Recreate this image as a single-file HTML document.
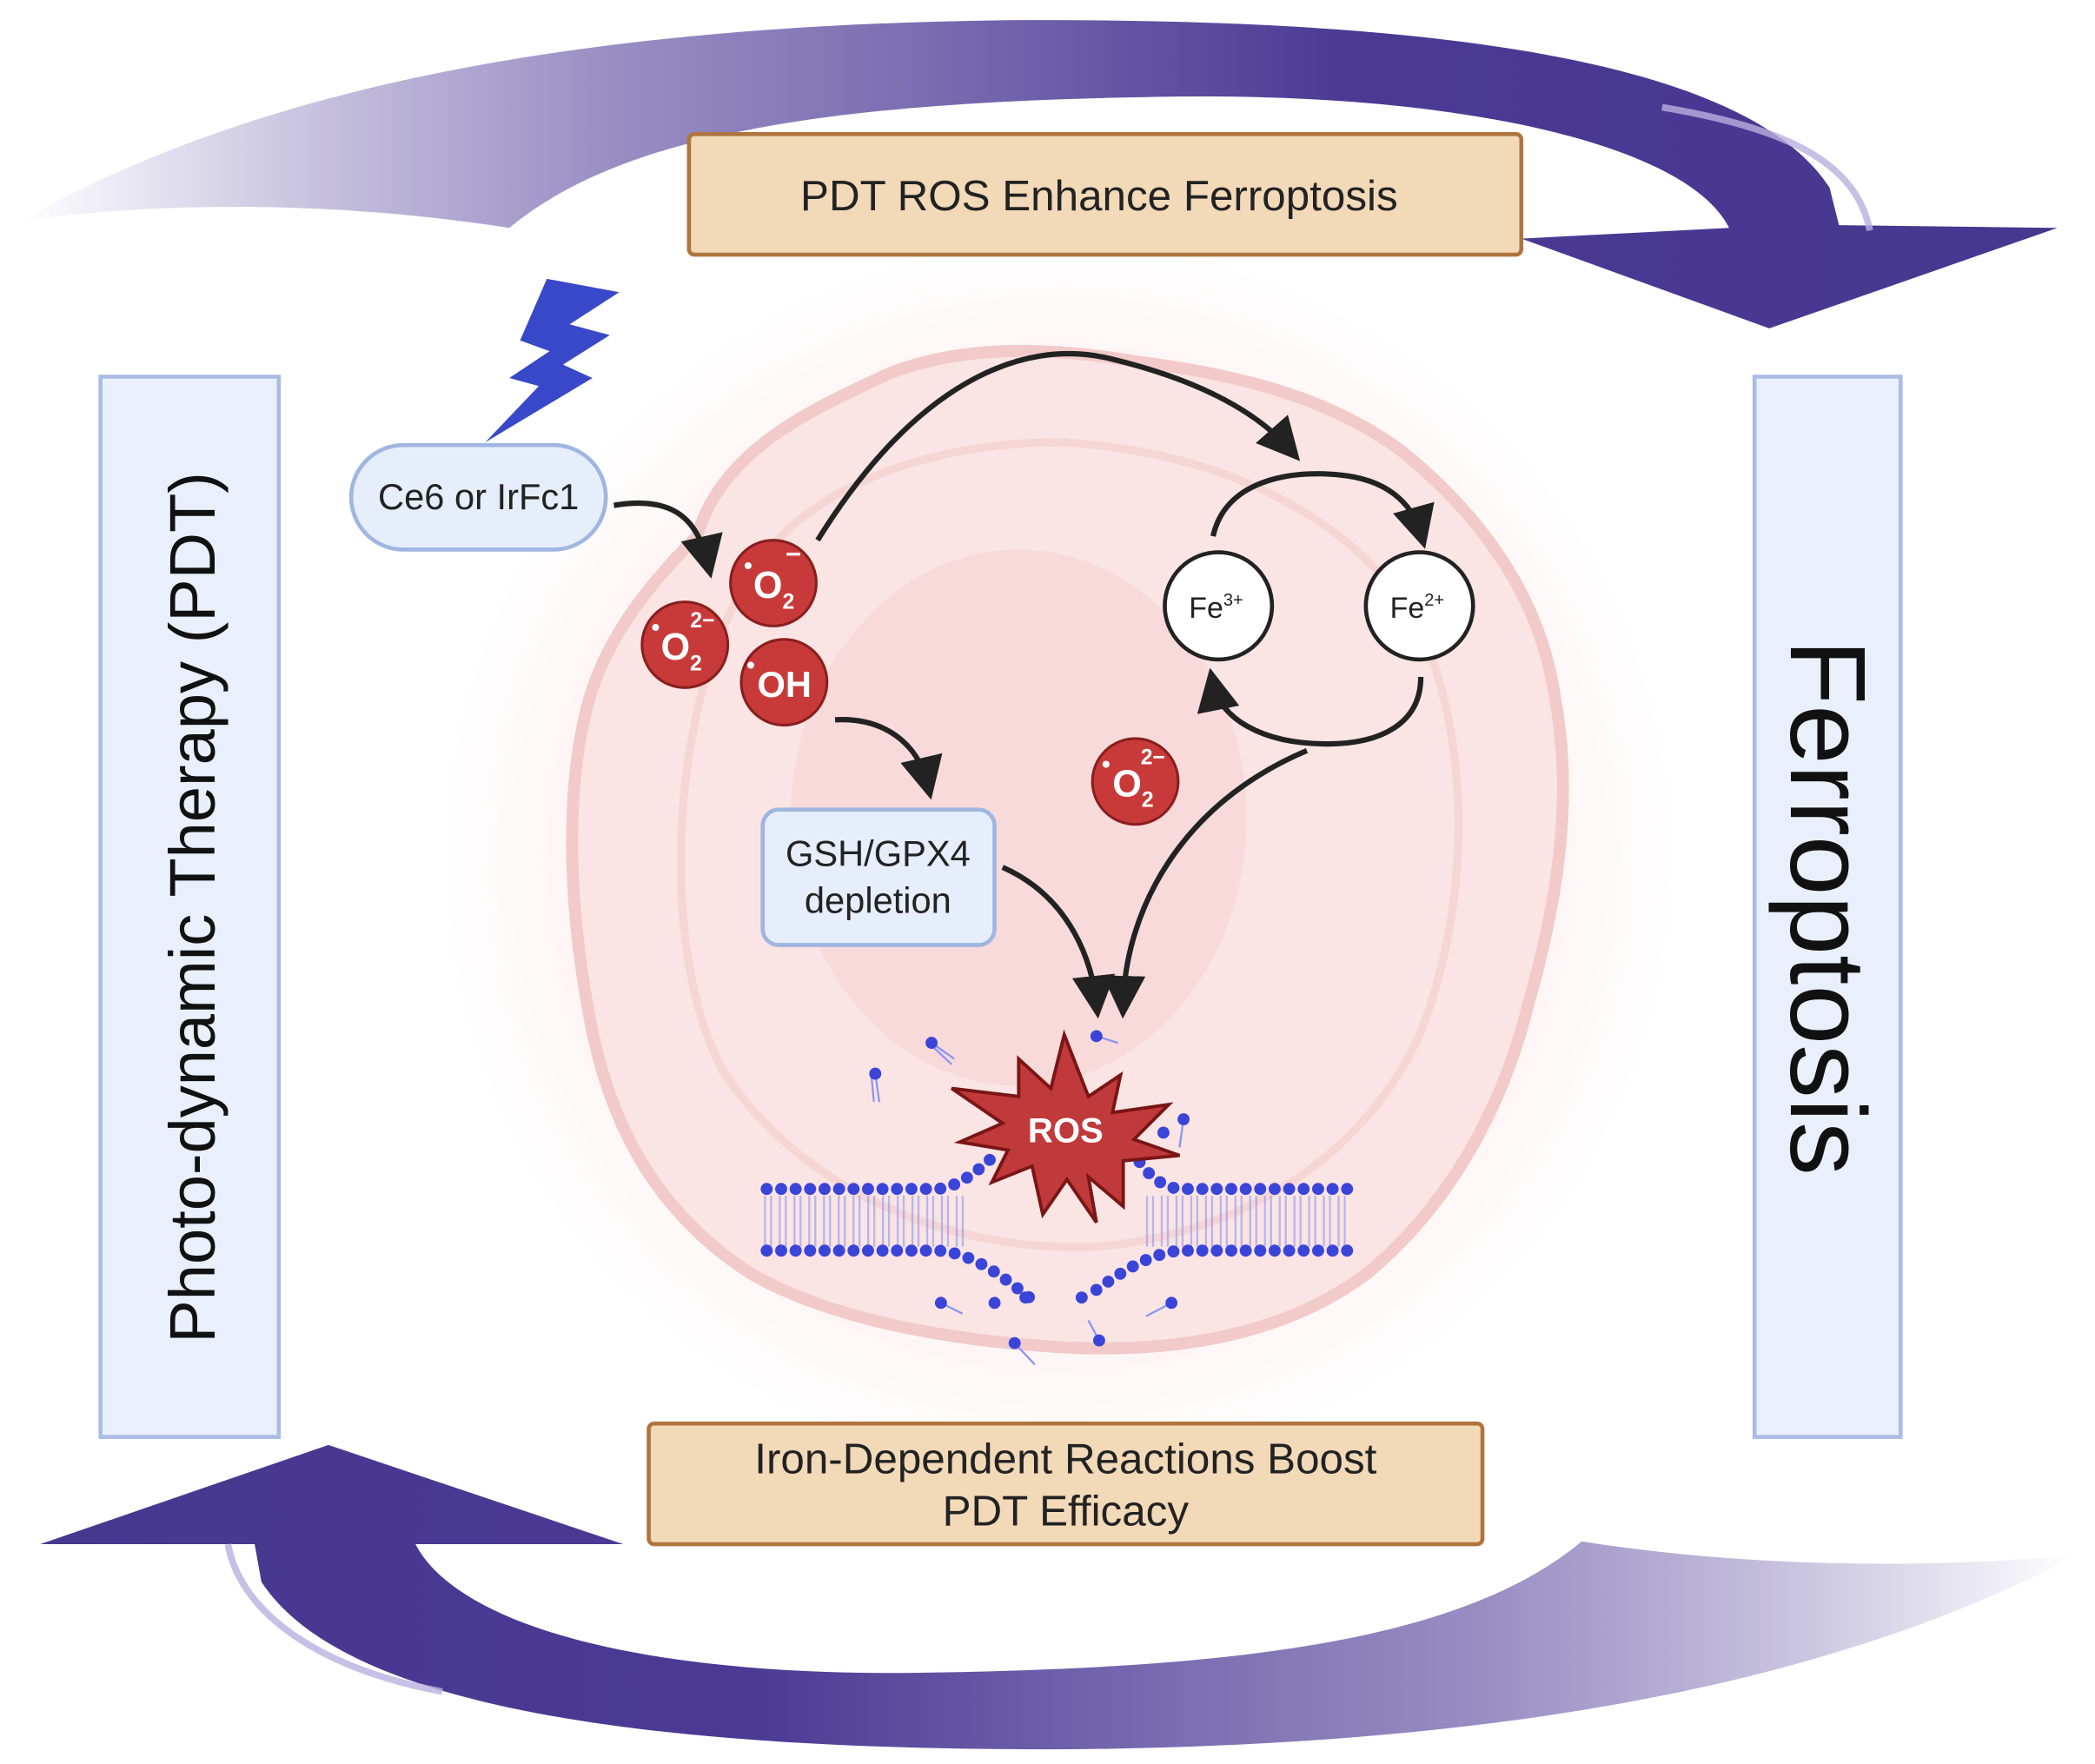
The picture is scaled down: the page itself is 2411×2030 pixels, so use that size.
<!DOCTYPE html>
<html><head><meta charset="utf-8"><style>
html,body{margin:0;padding:0;background:#fff}
svg{display:block}
text{font-family:"Liberation Sans",sans-serif}
</style></head><body>
<svg width="2411" height="2030" viewBox="0 0 1563 1316" preserveAspectRatio="none" xmlns="http://www.w3.org/2000/svg">
<defs>
<radialGradient id="glow" cx="790" cy="640" r="460" gradientUnits="userSpaceOnUse">
<stop offset="0" stop-color="#f9d3d3"/><stop offset="0.6" stop-color="#fcebeb"/><stop offset="1" stop-color="#ffffff"/>
</radialGradient>
<linearGradient id="gtop" x1="0" y1="0" x2="1" y2="0">
<stop offset="0" stop-color="#4a3a94" stop-opacity="0"/><stop offset="0.3" stop-color="#6a5aa8" stop-opacity="0.7"/><stop offset="0.65" stop-color="#4a3a94"/><stop offset="1" stop-color="#46378f"/>
</linearGradient>
<linearGradient id="gbot" x1="1" y1="0" x2="0" y2="0">
<stop offset="0" stop-color="#4a3a94" stop-opacity="0"/><stop offset="0.3" stop-color="#6a5aa8" stop-opacity="0.7"/><stop offset="0.65" stop-color="#4a3a94"/><stop offset="1" stop-color="#46378f"/>
</linearGradient>
<marker id="ah" markerWidth="8" markerHeight="8" refX="5" refY="4" orient="auto" markerUnits="strokeWidth"><path d="M0,0 L8,4 L0,8 Z" fill="#222"/></marker>
</defs>
<rect width="1563" height="1316" fill="#fff"/>
<circle cx="790" cy="640" r="470" fill="url(#glow)"/>
<!-- cell -->
<path d="M520,400 C540,330 620,300 660,280 C720,255 790,260 850,270 C930,280 1000,300 1050,340 C1110,390 1150,450 1160,520 C1175,600 1160,680 1140,750 C1120,830 1080,900 1020,950 C960,995 880,1010 790,1005 C710,1000 620,985 560,950 C490,905 455,840 440,760 C425,680 420,590 440,520 C455,470 490,430 520,400 Z" fill="#fae4e4" stroke="#f2caca" stroke-width="9"/>
<path d="M560,430 C600,360 700,330 790,330 C900,335 1010,380 1060,470 C1100,560 1095,680 1060,770 C1020,860 930,920 820,930 C710,935 600,890 540,800 C490,710 500,520 560,430 Z" fill="none" stroke="#f3cccc" stroke-width="6" opacity="0.6"/>
<ellipse cx="760" cy="610" rx="170" ry="200" fill="#f7d0d0" opacity="0.5"/>
<!-- big arrows -->
<path d="M15,165 C200,60 450,18 760,15 C1050,14 1300,40 1365,140 L1372,168 L1535,170 L1320,245 L1135,178 L1290,170 C1260,110 1100,70 880,72 C640,75 470,95 380,170 C250,150 120,150 15,165 Z" fill="url(#gtop)"/>
<path d="M1550,1160 C1360,1260 1110,1302 800,1305 C510,1306 260,1280 195,1180 L190,1152 L30,1152 L245,1078 L465,1152 L310,1152 C340,1210 470,1250 680,1248 C920,1245 1090,1225 1180,1150 C1310,1170 1440,1170 1550,1160 Z" fill="url(#gbot)"/>
<path d="M1395,172 C1385,120 1330,95 1240,80" fill="none" stroke="#b9b0de" stroke-width="5" opacity="0.8"/>
<path d="M170,1152 C180,1205 240,1245 330,1262" fill="none" stroke="#b9b0de" stroke-width="5" opacity="0.8"/>
<!-- boxes -->
<rect x="514" y="100" width="621" height="90" rx="4" fill="#f2d9b8" stroke="#b0743e" stroke-width="3"/>
<text x="820" y="157" font-size="32" text-anchor="middle" fill="#222">PDT ROS Enhance Ferroptosis</text>
<rect x="484" y="1062" width="622" height="90" rx="4" fill="#f2d9b8" stroke="#b0743e" stroke-width="3"/>
<text x="795" y="1099" font-size="32" text-anchor="middle" fill="#222">Iron-Dependent Reactions Boost</text>
<text x="795" y="1138" font-size="32" text-anchor="middle" fill="#222">PDT Efficacy</text>
<rect x="75" y="281" width="133" height="791" fill="#eaf0fb" stroke="#a9bde4" stroke-width="3"/>
<text transform="translate(160,677) rotate(-90)" font-size="48" text-anchor="middle" fill="#111">Photo-dynamic Therapy (PDT)</text>
<rect x="1309" y="281" width="109" height="791" fill="#eaf0fb" stroke="#a9bde4" stroke-width="3"/>
<text transform="translate(1336,677) rotate(90)" font-size="80" text-anchor="middle" fill="#111">Ferroptosis</text>
<!-- lightning -->
<path d="M408,208 L462,218 L425,242 L455,250 L420,272 L442,282 L362,330 L402,288 L380,282 L410,262 L388,254 Z" fill="#3848c8"/>
<rect x="262" y="332" width="190" height="78" rx="39" fill="#e6eefb" stroke="#9fb6e0" stroke-width="3"/>
<text x="357" y="380" font-size="27" text-anchor="middle" fill="#222">Ce6 or IrFc1</text>
<g fill="none" stroke="#222" stroke-width="4" marker-end="url(#ah)">
<path d="M458,377 C500,370 520,385 528,420"/>
<path d="M610,403 C680,290 760,250 830,268 C900,285 940,310 962,335"/>
<path d="M905,400 C915,355 970,350 1005,355 C1040,360 1055,380 1060,398"/>
<path d="M1060,505 C1060,540 1030,555 990,555 C940,555 910,535 905,510"/>
<path d="M623,537 C660,535 685,555 692,585"/>
<path d="M748,647 C800,670 815,720 818,748"/>
<path d="M975,560 C880,600 840,680 838,748"/>
</g>
<g stroke="#8a1e1e" stroke-width="2" fill="#c83a3a">
<circle cx="577" cy="435" r="32"/><circle cx="511" cy="481" r="32"/><circle cx="585" cy="509" r="32"/><circle cx="847" cy="583" r="32"/>
</g>
<g fill="#fff" font-weight="bold">
<text x="562" y="446" font-size="28">O<tspan font-size="16" dy="8">2</tspan></text><text x="555" y="428" font-size="18">•</text><text x="586" y="420" font-size="20">−</text>
<text x="493" y="492" font-size="28">O<tspan font-size="16" dy="8">2</tspan></text><text x="486" y="474" font-size="18">•</text><text x="515" y="468" font-size="16">2−</text>
<text x="565" y="520" font-size="27">OH</text><text x="557" y="502" font-size="18">•</text>
<text x="830" y="594" font-size="28">O<tspan font-size="16" dy="8">2</tspan></text><text x="822" y="576" font-size="18">•</text><text x="851" y="570" font-size="16">2−</text>
</g>
<circle cx="909" cy="452" r="40" fill="#fff" stroke="#222" stroke-width="3"/>
<text x="887" y="461" font-size="22" fill="#222">Fe<tspan font-size="13" dy="-9">3+</tspan></text>
<circle cx="1059" cy="452" r="40" fill="#fff" stroke="#222" stroke-width="3"/>
<text x="1037" y="461" font-size="22" fill="#222">Fe<tspan font-size="13" dy="-9">2+</tspan></text>
<rect x="569" y="604" width="173" height="101" rx="12" fill="#e6eefb" stroke="#9fb6e0" stroke-width="3"/>
<text x="655" y="646" font-size="27" text-anchor="middle" fill="#222">GSH/GPX4</text>
<text x="655" y="681" font-size="27" text-anchor="middle" fill="#222">depletion</text>
<!-- membrane tails -->
<g fill="none" stroke="#8a96f0" stroke-dasharray="1.5 3 1.5 5">
<path d="M570,905 L722,905 M570,917 L720,917" stroke-width="26" opacity="0.6"/>
<path d="M855,905 L1005,905 M855,917 L1005,917" stroke-width="26" opacity="0.6"/>
</g>
<g fill="none" stroke="#3a45d8" stroke-width="9" stroke-linecap="round" stroke-dasharray="0 10.8">
<path d="M572,887 L700,887 C715,885 728,875 742,862"/>
<path d="M572,933 L700,933 C725,935 745,950 768,968"/>
<path d="M1005,887 L880,887 C865,885 855,875 847,862"/>
<path d="M1005,933 L880,933 C855,936 835,950 810,968"/>
</g>
<g stroke="#8a96f0" stroke-width="1.5" fill="none">
<path d="M695,778 L712,790 M695,780 L710,794 M653,801 L656,822 M650,801 L652,822 M818,773 L834,778 M883,835 L880,856 M702,972 L718,980 M757,1002 L772,1018 M874,972 L855,982 M820,1000 L812,985"/>
</g>
<g fill="#3a45d8">
<circle cx="695" cy="778" r="4.5"/><circle cx="653" cy="801" r="4.5"/><circle cx="818" cy="773" r="4.5"/><circle cx="883" cy="835" r="4.5"/><circle cx="868" cy="845" r="4.5"/>
<circle cx="702" cy="972" r="4.5"/><circle cx="742" cy="972" r="4.5"/><circle cx="765" cy="968" r="4.5"/><circle cx="820" cy="1000" r="4.5"/><circle cx="874" cy="972" r="4.5"/><circle cx="757" cy="1002" r="4.5"/><circle cx="807" cy="968" r="4.5"/>
</g>
<path d="M794,772 L812,818 L836,802 L830,830 L872,824 L846,850 L880,862 L838,866 L838,900 L812,878 L818,912 L796,880 L778,906 L770,870 L740,882 L752,858 L716,852 L748,838 L710,812 L760,818 L760,790 L784,812 Z" fill="#c0393b" stroke="#7a1515" stroke-width="2.5"/>
<text x="795" y="852" font-size="26" font-weight="bold" text-anchor="middle" fill="#fff">ROS</text>
</svg>
</body></html>
